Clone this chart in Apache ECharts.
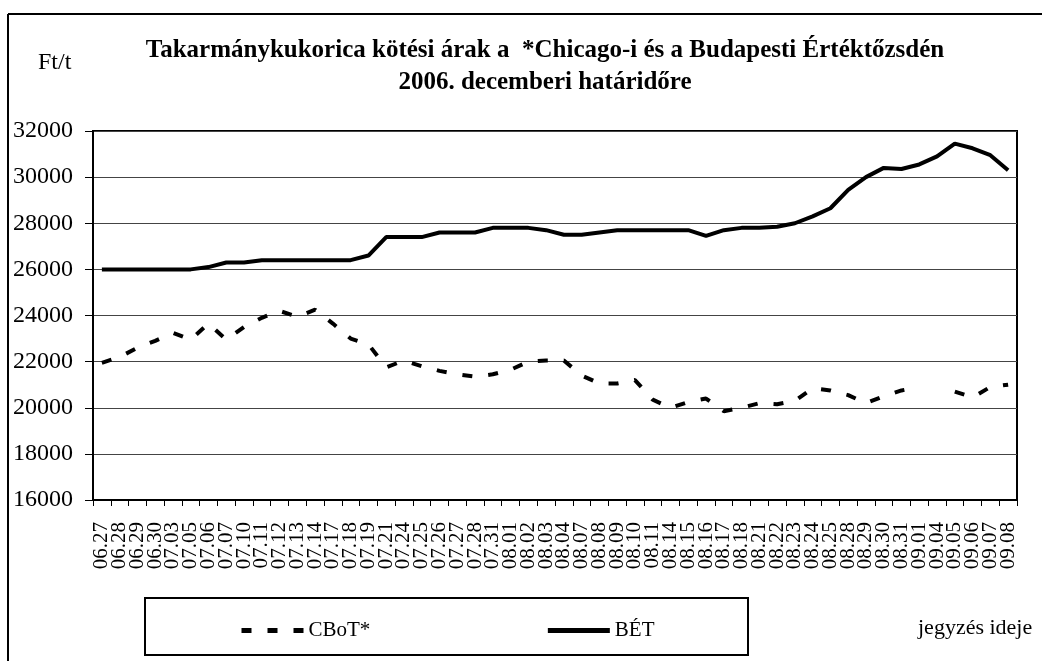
<!DOCTYPE html>
<html lang="hu">
<head>
<meta charset="UTF-8">
<title>Takarmánykukorica kötési árak</title>
<script src="https://cdn.jsdelivr.net/npm/echarts@6.0.0/dist/echarts.min.js"></script>
<style>
    html, body { margin: 0; padding: 0; background: #fff; }
    #chart { width: 1042px; height: 661px; }
</style>
</head>
<body>
<div id="chart"></div>
<script>
    // jegyzés ideje (hó.nap)
    var dates = ['06.27', '06.28', '06.29', '06.30', '07.03', '07.05', '07.06', '07.07', '07.10', '07.11',
        '07.12', '07.13', '07.14', '07.17', '07.18', '07.19', '07.21', '07.24', '07.25', '07.26',
        '07.27', '07.28', '07.31', '08.01', '08.02', '08.03', '08.04', '08.07', '08.08', '08.09',
        '08.10', '08.11', '08.14', '08.15', '08.16', '08.17', '08.18', '08.21', '08.22', '08.23',
        '08.24', '08.25', '08.28', '08.29', '08.30', '08.31', '09.01', '09.04', '09.05', '09.06',
        '09.07', '09.08'];

    // Chicago (CBoT), Ft/t - 09.04-en nincs jegyzés
    var cbot = [21950, 22200, 22600, 22900, 23250, 22950, 23650, 22950, 23500, 23900,
        24200, 23950, 24250, 23650, 23000, 22750, 21750, 22050, 21800, 21600,
        21450, 21350, 21450, 21650, 22000, 22050, 22050, 21400, 21050, 21050,
        21200, 20350, 20000, 20250, 20400, 19850, 20000, 20200, 20150, 20300,
        20850, 20750, 20550, 20200, 20500, 20750, 20900, null, 20700, 20450,
        20900, 21000];

    // Budapest (BÉT), Ft/t
    var bet = [26000, 26000, 26000, 26000, 26000, 26000, 26100, 26300, 26300, 26400,
        26400, 26400, 26400, 26400, 26400, 26600, 27400, 27400, 27400, 27600,
        27600, 27600, 27800, 27800, 27800, 27700, 27500, 27500, 27600, 27700,
        27700, 27700, 27700, 27700, 27450, 27700, 27800, 27800, 27850, 28000,
        28300, 28650, 29450, 30000, 30400, 30350, 30550, 30900, 31450, 31250,
        30950, 30300];

    var seriesNames = ['CBoT*', 'BÉT'];
    var titleLines = ['Takarmánykukorica kötési árak a  *Chicago-i és a Budapesti Értéktőzsdén', '2006. decemberi határidőre'];

    var font = 'Liberation Serif';
    var chart = echarts.init(document.getElementById('chart'));

    var option = {
        backgroundColor: '#fff',
        animation: false,
        textStyle: { fontFamily: font, color: '#000' },
        grid: {
            left: 93, right: 25, top: 131, bottom: 161,
            show: true, borderColor: '#000', borderWidth: 2
        },
        legend: {
            data: seriesNames,
            left: 234, top: 615,
            itemWidth: 62, itemHeight: 14, itemGap: 175,
            itemStyle: { color: 'rgba(0,0,0,0)', borderWidth: 0 },
            lineStyle: { width: 5 },
            textStyle: { fontFamily: font, fontSize: 21, color: '#000' }
        },
        xAxis: {
            type: 'category',
            data: dates,
            boundaryGap: true,
            axisLine: { lineStyle: { color: '#000', width: 2 } },
            axisTick: { show: true, length: 6, lineStyle: { color: '#000' } },
            axisLabel: {
                interval: 0, rotate: 90, margin: 22,
                fontFamily: font, fontSize: 21, color: '#000'
            }
        },
        yAxis: {
            type: 'value',
            min: 16000, max: 32000, interval: 2000,
            axisLine: { show: true, lineStyle: { color: '#000', width: 2 } },
            axisTick: { show: true, length: 8, lineStyle: { color: '#000' } },
            axisLabel: {
                margin: 20, fontFamily: font, fontSize: 24, color: '#000',
                formatter: function (v) { return String(v); }
            },
            splitLine: { lineStyle: { color: '#444', width: 1 } }
        },
        series: [{
            name: seriesNames[0],
            type: 'line',
            data: cbot,
            symbol: 'none',
            color: '#000',
            lineStyle: { color: '#000', width: 4, type: [10, 16], cap: 'butt' }
        }, {
            name: seriesNames[1],
            type: 'line',
            data: bet,
            symbol: 'none',
            color: '#000',
            lineStyle: { color: '#000', width: 4 }
        }],
        graphic: [
            // keret
            { type: 'line', shape: { x1: 8, y1: 14, x2: 1042, y2: 14 }, style: { stroke: '#000', lineWidth: 2 } },
            { type: 'line', shape: { x1: 8, y1: 14, x2: 8, y2: 661 }, style: { stroke: '#000', lineWidth: 2 } },
            // jelmagyarázat doboza
            { type: 'rect', shape: { x: 145, y: 598, width: 603, height: 57 }, style: { fill: 'none', stroke: '#000', lineWidth: 2 }, z: -1 },
            {
                type: 'text', x: 545, y: 51,
                style: { text: titleLines[0], font: 'bold 25px "Liberation Serif"', fill: '#000', align: 'center', verticalAlign: 'middle' }
            },
            {
                type: 'text', x: 545, y: 83,
                style: { text: titleLines[1], font: 'bold 25px "Liberation Serif"', fill: '#000', align: 'center', verticalAlign: 'middle' }
            },
            {
                type: 'text', x: 38, y: 63,
                style: { text: 'Ft/t', font: '24px "Liberation Serif"', fill: '#000', verticalAlign: 'middle' }
            },
            {
                type: 'text', x: 918, y: 628,
                style: { text: 'jegyzés ideje', font: '22px "Liberation Serif"', fill: '#000', verticalAlign: 'middle' }
            }
        ]
    };
    chart.setOption(option);
</script>
</body>
</html>
